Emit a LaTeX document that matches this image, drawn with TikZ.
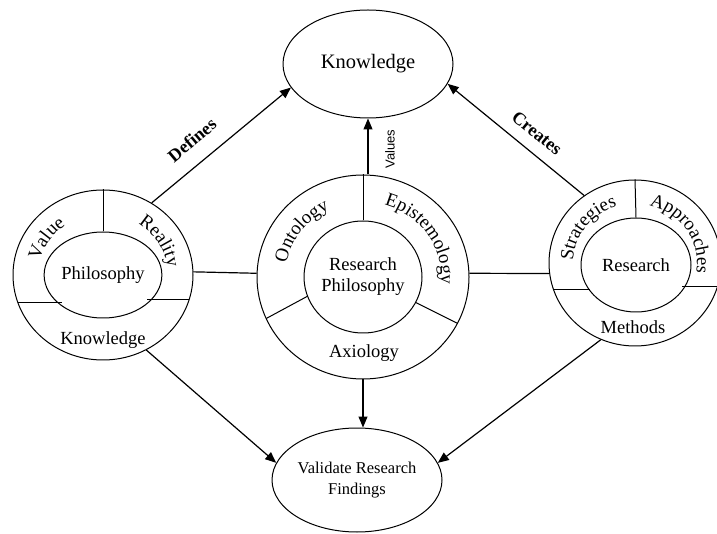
\documentclass[tikz,border=0pt]{standalone}
\usepackage{fontspec}
\setmainfont{Liberation Serif}
\setsansfont{Liberation Sans}
\usetikzlibrary{shapes.geometric,arrows.meta,decorations.text}
\newcommand\ringfont{\fontsize{19}{22}\selectfont}

\begin{document}
\begin{tikzpicture}[x=1pt,y=1pt,
  oval/.style={draw, ellipse, inner sep=0pt, line width=1pt},
  txt/.style={font=\fontsize{18.5}{21}\selectfont, align=center},
  conn/.style={line width=1.2pt},
  arr/.style={conn, -{Triangle[length=11pt,width=9pt]}},
  tag/.style={font=\bfseries\fontsize{18}{21}\selectfont},
  ring/.style={decorate, decoration={text along path, text align=center, text={|\ringfont|#1}}},
]
\useasboundingbox (0,0) rectangle (717,533);

% top and bottom ovals
\node[oval, minimum width=170, minimum height=108, font=\fontsize{20.5}{24}\selectfont] (K) at (368,469) {Knowledge};
\node[oval, minimum width=170, minimum height=104, font=\fontsize{16.5}{21}\selectfont, align=center] (V) at (357,53) {Validate Research\\Findings};

% left ring: Philosophy
\node[oval, minimum width=180, minimum height=170] (LCo) at (103,258) {};
\node[oval, minimum width=108, minimum height=86, txt] (LCi) at (103,258) {Philosophy};
\draw[line width=1pt] (LCi.north) -- (LCo.north);
\draw[line width=1pt] (18,230) -- (62,230);
\draw[line width=1pt] (147,233) -- (189,233);
\path[ring=Value] (LCo.center) ++(207:65 and 61) arc[start angle=207, end angle=87, x radius=65, y radius=61];
\path[ring=Reality] (LCo.center) ++(91:65 and 61) arc[start angle=91, end angle=-29, x radius=65, y radius=61];
\node[txt] (LK) at (103,193) {Knowledge};

% centre ring: Research Philosophy
\node[oval, minimum width=212, minimum height=204] (CCo) at (363,256) {};
\node[oval, minimum width=118, minimum height=112, txt] (CCi) at (363,256) {Research\\Philosophy};
\draw[line width=1pt] (CCi.north) -- (CCo.north);
\draw[line width=1pt] (307.6,236.8) -- (266.2,214.5);
\draw[line width=1pt] (415.6,230.6) -- (457.4,209.7);
\path[ring=Ontology] (CCo.center) ++(203:78 and 75) arc[start angle=203, end angle=83, x radius=78, y radius=75];
\path[ring=Epistemology] (CCo.center) ++(94:78 and 75) arc[start angle=94, end angle=-26, x radius=78, y radius=75];
\node[txt] (AX) at (364,180) {Axiology};

% right ring: Research
\node[oval, minimum width=172, minimum height=166] (RCo) at (635,270) {};
\node[oval, minimum width=110, minimum height=94, txt] (RCi) at (636,268) {Research};
\draw[line width=1pt] (RCi.north) -- (RCo.north);
\draw[line width=1pt] (554,243) -- (590,243);
\draw[line width=1pt] (682,246) -- (720,246);
\path[ring=Strategies] (RCo.center) ++(203:62 and 59) arc[start angle=203, end angle=83, x radius=62, y radius=59];
\path[ring=Approaches] (RCo.center) ++(93:62 and 59) arc[start angle=93, end angle=-27, x radius=62, y radius=59];
\node[txt] (ME) at (633,206) {Methods};

% links between the rings
\draw[conn] (LCo.2) -- (CCo.178);
\draw[conn] (CCo.2) -- (RCo.187);

% arrows
\draw[arr] (LCo.56) -- (K.197);
\draw[arr] (RCo.127) -- (K.-14);
\draw[arr] (CCo.north -| K.south) -- (K.south);
\draw[arr] (LCo.-60) -- (V.168);
\draw[arr] (CCo.south) -- (CCo.south |- V.north);
\draw[arr] (RCo.246) -- (V.12);

% arrow labels
\node[tag, rotate=40] (DF) at (192,393) {Defines};
\node[tag, rotate=-39] (CR) at (537,400) {Creates};
\node[font=\sffamily\fontsize{13}{15}\selectfont, rotate=90] (VA) at (390,384) {Values};
\end{tikzpicture}
\end{document}
